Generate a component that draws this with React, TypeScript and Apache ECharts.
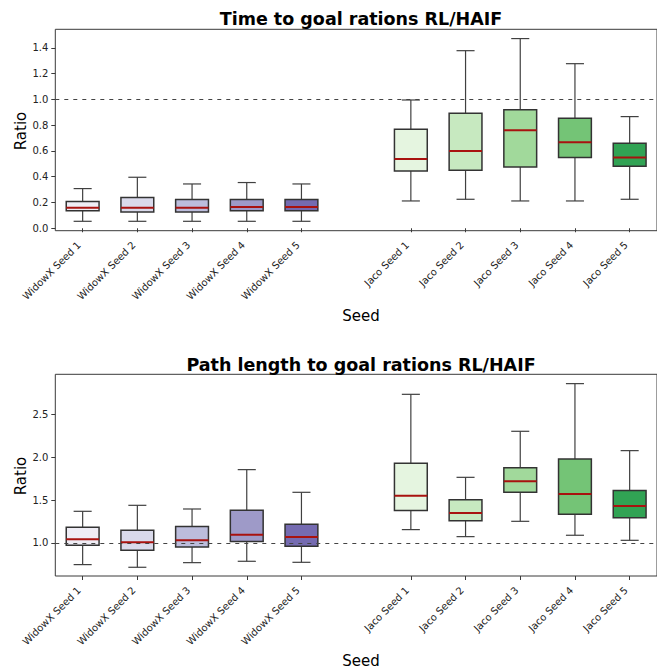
import React, { useEffect, useRef } from "react";
import * as echarts from "echarts";

const seedLabels = [
  "WidowX Seed 1", "WidowX Seed 2", "WidowX Seed 3", "WidowX Seed 4", "WidowX Seed 5",
  "",
  "Jaco Seed 1", "Jaco Seed 2", "Jaco Seed 3", "Jaco Seed 4", "Jaco Seed 5",
];
const boxSeeds = [
  "WidowX Seed 1", "WidowX Seed 2", "WidowX Seed 3", "WidowX Seed 4", "WidowX Seed 5",
  "Jaco Seed 1", "Jaco Seed 2", "Jaco Seed 3", "Jaco Seed 4", "Jaco Seed 5",
];
const boxColors = [
  "#efedf5", "#dadaeb", "#bcbddc", "#9e9ac8", "#756bb1",
  "#e5f5e0", "#c7e9c0", "#a1d99b", "#74c476", "#31a354",
];

// Time to goal ratios
const timeLow = [0.054, 0.054, 0.054, 0.054, 0.054, 0.212, 0.225, 0.212, 0.212, 0.225];
const timeQ1 = [0.135, 0.127, 0.127, 0.135, 0.135, 0.445, 0.45, 0.476, 0.549, 0.481];
const timeMedian = [0.16, 0.16, 0.16, 0.166, 0.166, 0.538, 0.6, 0.761, 0.668, 0.549];
const timeQ3 = [0.207, 0.238, 0.223, 0.223, 0.223, 0.769, 0.893, 0.921, 0.854, 0.66];
const timeHigh = [0.308, 0.396, 0.344, 0.355, 0.344, 0.996, 1.379, 1.473, 1.278, 0.867];
const timeTicks = [0, 0.2, 0.4, 0.6, 0.8, 1.0, 1.2, 1.4];

// Path length ratios
const pathLow = [0.747, 0.716, 0.77, 0.786, 0.774, 1.156, 1.074, 1.253, 1.09, 1.031];
const pathQ1 = [0.973, 0.914, 0.953, 1.016, 0.961, 1.378, 1.261, 1.592, 1.335, 1.296];
const pathMedian = [1.043, 1.008, 1.031, 1.097, 1.07, 1.553, 1.351, 1.721, 1.573, 1.432];
const pathQ3 = [1.183, 1.148, 1.191, 1.382, 1.218, 1.931, 1.506, 1.88, 1.982, 1.612];
const pathHigh = [1.37, 1.44, 1.397, 1.857, 1.592, 2.737, 1.767, 2.305, 2.862, 2.079];
const pathTicks = [1.0, 1.5, 2.0, 2.5];

const FONT = "DejaVu Sans";
const AXIS_COLOR = "#3a3a3a";

function buildData(low: number[], q1: number[], med: number[], q3: number[], high: number[]) {
  return boxSeeds.map((s, i) => [s, low[i], q1[i], med[i], q3[i], high[i]]);
}

function renderBox(params: any, api: any) {
  const xi = api.value(0);
  const pLow = api.coord([xi, api.value(1)]);
  const pQ1 = api.coord([xi, api.value(2)]);
  const pMed = api.coord([xi, api.value(3)]);
  const pQ3 = api.coord([xi, api.value(4)]);
  const pHigh = api.coord([xi, api.value(5)]);
  const band = api.size([1, 0])[0];
  const bw = band * 0.6;
  const cw = bw * 0.55;
  const cx = pLow[0];
  const wStyle = { stroke: "#404040", lineWidth: 1.2 };
  return {
    type: "group",
    children: [
      { type: "line", shape: { x1: cx, y1: pLow[1], x2: cx, y2: pQ1[1] }, style: wStyle },
      { type: "line", shape: { x1: cx, y1: pQ3[1], x2: cx, y2: pHigh[1] }, style: wStyle },
      { type: "line", shape: { x1: cx - cw / 2, y1: pLow[1], x2: cx + cw / 2, y2: pLow[1] }, style: wStyle },
      { type: "line", shape: { x1: cx - cw / 2, y1: pHigh[1], x2: cx + cw / 2, y2: pHigh[1] }, style: wStyle },
      {
        type: "rect",
        shape: { x: cx - bw / 2, y: pQ3[1], width: bw, height: pQ1[1] - pQ3[1] },
        style: { fill: boxColors[params.dataIndex], stroke: "#333333", lineWidth: 1.5 },
      },
      {
        type: "line",
        shape: { x1: cx - bw / 2, y1: pMed[1], x2: cx + bw / 2, y2: pMed[1] },
        style: { stroke: "#a8120f", lineWidth: 2 },
      },
    ],
  };
}

function xAxisCfg(gridIndex: number) {
  return {
    type: "category",
    gridIndex,
    data: seedLabels,
    boundaryGap: true,
    axisLine: { show: false },
    axisTick: {
      show: true,
      alignWithLabel: true,
      length: 4,
      interval: (_i: number, v: string) => v !== "",
      lineStyle: { color: AXIS_COLOR },
    },
    axisLabel: {
      interval: 0,
      rotate: 45,
      margin: 9,
      padding: [0, 5, 0, 0],
      fontFamily: FONT,
      fontSize: 10,
      color: "#222",
    },
    splitLine: { show: false },
  };
}

function yAxisCfg(gridIndex: number, min: number, max: number, ticks: number[]) {
  return {
    type: "value",
    gridIndex,
    min,
    max,
    axisLine: { show: false },
    axisTick: { show: true, length: 4, customValues: ticks, lineStyle: { color: AXIS_COLOR } },
    axisLabel: {
      customValues: ticks,
      margin: 7,
      fontFamily: FONT,
      fontSize: 10,
      color: "#222",
      formatter: (v: number) => v.toFixed(1),
    },
    splitLine: { show: false },
  };
}

function refLine(xAxisIndex: number, yAxisIndex: number) {
  return {
    type: "line",
    xAxisIndex,
    yAxisIndex,
    z: 5,
    data: seedLabels.map(() => null),
    showSymbol: false,
    silent: true,
    markLine: {
      silent: true,
      symbol: "none",
      label: { show: false },
      lineStyle: { type: [4, 5], color: "#444", width: 1 },
      data: [{ yAxis: 1 }],
    },
  };
}

export default function App() {
  const ref = useRef<HTMLDivElement>(null);
  useEffect(() => {
    if (!ref.current) return;
    const chart = echarts.init(ref.current, undefined, { renderer: "svg" });
    const gridW = 611.6;
    chart.setOption({
      animation: false,
      backgroundColor: "#ffffff",
      grid: [
        { left: 55.3, top: 29.3, width: gridW, height: 201.4, show: true, borderColor: AXIS_COLOR, borderWidth: 1, backgroundColor: "transparent" },
        { left: 55.3, top: 374.3, width: gridW, height: 201.7, show: true, borderColor: AXIS_COLOR, borderWidth: 1, backgroundColor: "transparent" },
      ],
      xAxis: [xAxisCfg(0), xAxisCfg(1)],
      yAxis: [yAxisCfg(0, -0.019, 1.545, timeTicks), yAxisCfg(1, 0.614, 2.971, pathTicks)],
      series: [
        {
          type: "custom",
          xAxisIndex: 0,
          yAxisIndex: 0,
          z: 2,
          renderItem: renderBox,
          encode: { x: 0, y: [1, 2, 3, 4, 5] },
          data: buildData(timeLow, timeQ1, timeMedian, timeQ3, timeHigh),
        },
        {
          type: "custom",
          xAxisIndex: 1,
          yAxisIndex: 1,
          z: 2,
          renderItem: renderBox,
          encode: { x: 0, y: [1, 2, 3, 4, 5] },
          data: buildData(pathLow, pathQ1, pathMedian, pathQ3, pathHigh),
        },
        refLine(0, 0),
        refLine(1, 1),
      ],
      graphic: [
        {
          type: "text",
          x: 361,
          y: 19,
          style: { text: "Time to goal rations RL/HAIF", font: `bold 17.5px '${FONT}'`, fill: "#000", textAlign: "center", textVerticalAlign: "middle" },
        },
        {
          type: "text",
          x: 361,
          y: 364.5,
          style: { text: "Path length to goal rations RL/HAIF", font: `bold 17.5px '${FONT}'`, fill: "#000", textAlign: "center", textVerticalAlign: "middle" },
        },
        {
          type: "text",
          x: 21,
          y: 131,
          rotation: Math.PI / 2,
          style: { text: "Ratio", font: `15px '${FONT}'`, fill: "#000", textAlign: "center", textVerticalAlign: "middle" },
        },
        {
          type: "text",
          x: 21,
          y: 476,
          rotation: Math.PI / 2,
          style: { text: "Ratio", font: `15px '${FONT}'`, fill: "#000", textAlign: "center", textVerticalAlign: "middle" },
        },
        {
          type: "text",
          x: 361,
          y: 316,
          style: { text: "Seed", font: `15px '${FONT}'`, fill: "#000", textAlign: "center", textVerticalAlign: "middle" },
        },
        {
          type: "text",
          x: 361,
          y: 661,
          style: { text: "Seed", font: `15px '${FONT}'`, fill: "#000", textAlign: "center", textVerticalAlign: "middle" },
        },
      ],
    });
    return () => chart.dispose();
  }, []);
  return (
    <div
      ref={ref}
      style={{ position: "fixed", left: 0, top: 0, width: 657, height: 672, overflow: "hidden", background: "#fff" }}
    />
  );
}
